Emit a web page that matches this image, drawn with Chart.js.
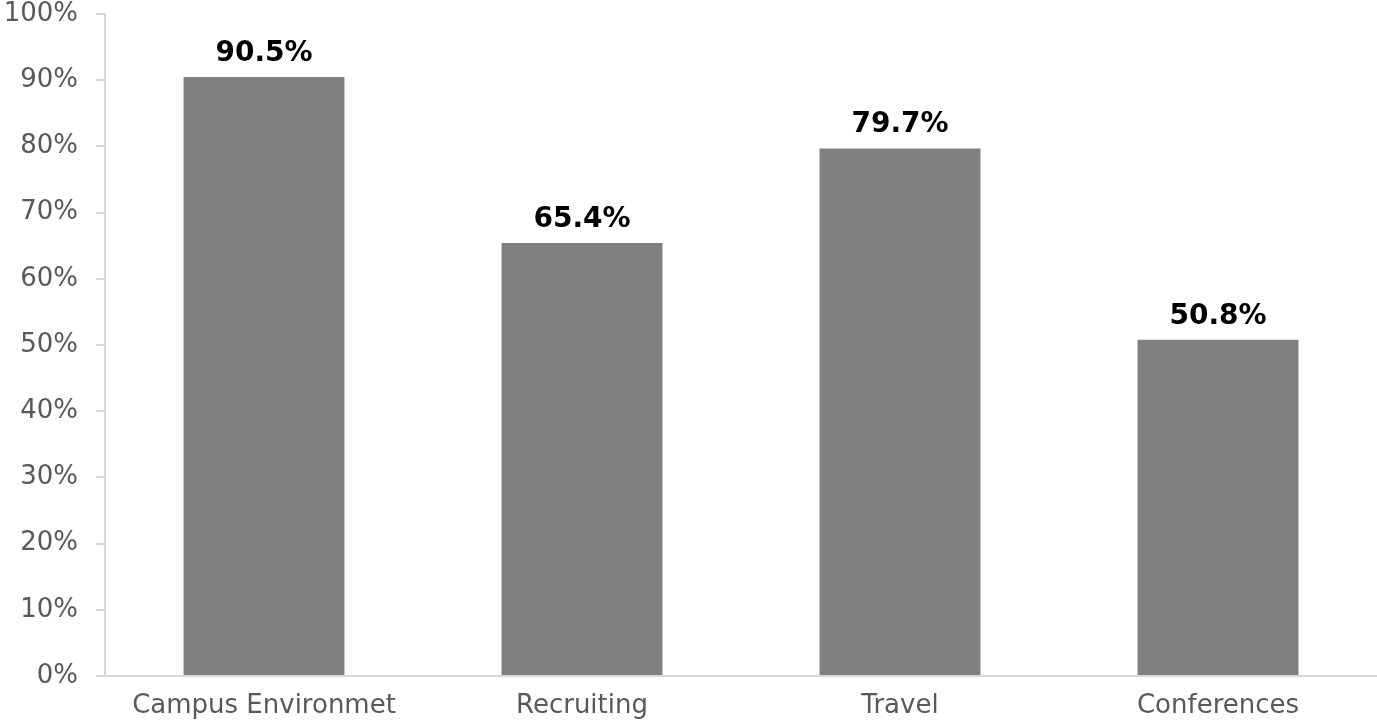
<!DOCTYPE html>
<html>
<head>
<meta charset="utf-8">
<script src="https://cdn.jsdelivr.net/npm/chart.js@4.4.0/dist/chart.umd.min.js"></script>
<style>
  html, body { margin: 0; padding: 0; background: #fff; }
  #wrap { width: 1377px; height: 724px; }
</style>
</head>
<body>
<div id="wrap"><canvas id="barChart" width="1377" height="724"></canvas></div>
<script>
const categories = ["Campus Environmet", "Recruiting", "Travel", "Conferences"];
const percentValues = [90.5, 65.4, 79.7, 50.8];

// draws the bold value above each bar
const valueLabels = {
  id: "valueLabels",
  afterDatasetsDraw(chart) {
    const ctx = chart.ctx;
    const meta = chart.getDatasetMeta(0);
    ctx.save();
    ctx.font = "bold 28px 'DejaVu Sans'";
    ctx.fillStyle = "#000";
    ctx.textAlign = "center";
    ctx.textBaseline = "alphabetic";
    meta.data.forEach((bar, i) => {
      ctx.fillText(percentValues[i].toFixed(1) + "%", bar.x, bar.y - 16);
    });
    ctx.restore();
  }
};

new Chart(document.getElementById("barChart"), {
  type: "bar",
  data: {
    labels: categories,
    datasets: [{
      data: percentValues,
      backgroundColor: "#808080",
      categoryPercentage: 1,
      barPercentage: 0.506
    }]
  },
  options: {
    responsive: false,
    animation: false,
    layout: { padding: { top: 14, right: 0, left: 4, bottom: 0 } },
    plugins: { legend: { display: false }, tooltip: { enabled: false } },
    scales: {
      x: {
        grid: { display: false },
        border: { color: "#d9d9d9", width: 2 },
        ticks: { color: "#595959", font: { family: "DejaVu Sans", size: 26 }, padding: 7 },
        afterFit(scale) { scale.height = 48; }
      },
      y: {
        min: 0,
        max: 100,
        ticks: {
          stepSize: 10,
          color: "#595959",
          padding: 18,
          font: { family: "DejaVu Sans", size: 26 },
          callback: v => v + "%"
        },
        grid: { drawOnChartArea: false, color: "#d9d9d9", tickLength: 9, lineWidth: 2 },
        border: { color: "#d9d9d9", width: 2 },
        afterFit(scale) {
          scale.width = 101;
          scale.paddingTop = 0;
          scale.paddingBottom = 0;
        }
      }
    }
  },
  plugins: [valueLabels]
});
</script>
</body>
</html>
